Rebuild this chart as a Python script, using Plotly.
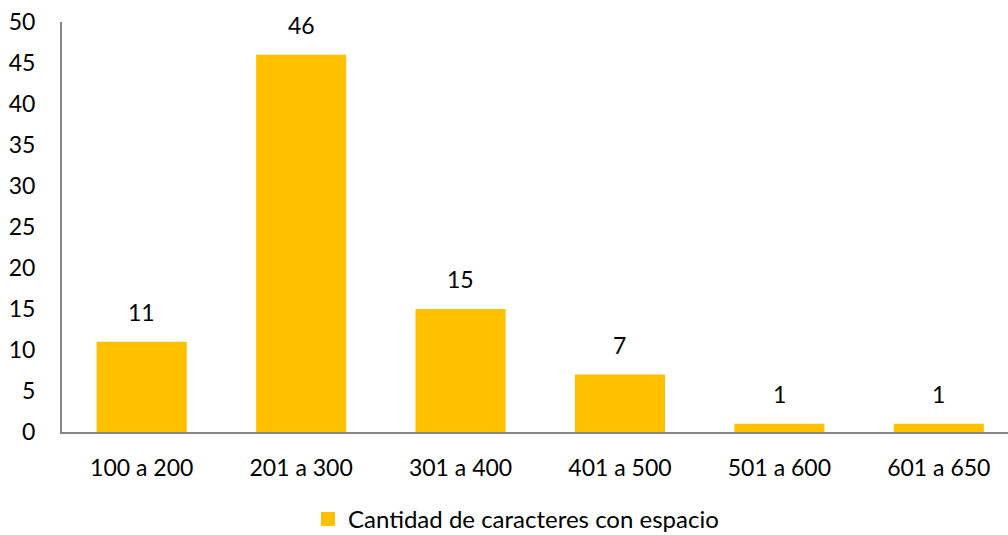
import plotly.graph_objects as go

categories = ["100 a 200", "201 a 300", "301 a 400", "401 a 500", "501 a 600", "601 a 650"]
values = [11, 46, 15, 7, 1, 1]
series_name = "Cantidad de caracteres con espacio"
bar_color = "#FFC000"

FONT = "Lato, 'Open Sans', sans-serif"

fig = go.Figure()
fig.add_trace(go.Bar(
    x=categories, y=values, name=series_name,
    marker=dict(color=bar_color, line=dict(width=0)),
    width=0.565,
    cliponaxis=False,
    showlegend=False,
))
# legend entry with a larger square swatch
fig.add_trace(go.Scatter(
    x=[None], y=[None], mode="markers", name=series_name,
    marker=dict(symbol="square", size=14, color=bar_color),
    showlegend=True,
))

for c, v in zip(categories, values):
    fig.add_annotation(x=c, y=v, text=str(v), showarrow=False,
                       yanchor="bottom", yshift=14,
                       font=dict(size=23, color="#000000", family=FONT))

fig.update_layout(
    width=1008, height=535,
    margin=dict(l=62, r=0, t=22, b=103, autoexpand=False),
    paper_bgcolor="white", plot_bgcolor="white",
    font=dict(family=FONT, size=23, color="#000000"),
    showlegend=True,
    legend=dict(orientation="h", x=0.26, xanchor="left", y=-0.213, yanchor="middle",
                font=dict(size=24), itemwidth=30, tracegroupgap=0),
    xaxis=dict(type="category", range=[-0.5, 5.434], showline=True, linecolor="#868686",
               linewidth=2, showgrid=False, ticks="", ticklabelstandoff=14, automargin=False),
    yaxis=dict(range=[0, 50], dtick=5, showline=True, linecolor="#868686", linewidth=2,
               showgrid=False, zeroline=False, ticks="", ticklabelstandoff=20, automargin=False),
)

fig.write_html("out.html", config={"displayModeBar": False},
               post_script="document.body.style.margin='0';document.body.style.overflow='hidden';")
